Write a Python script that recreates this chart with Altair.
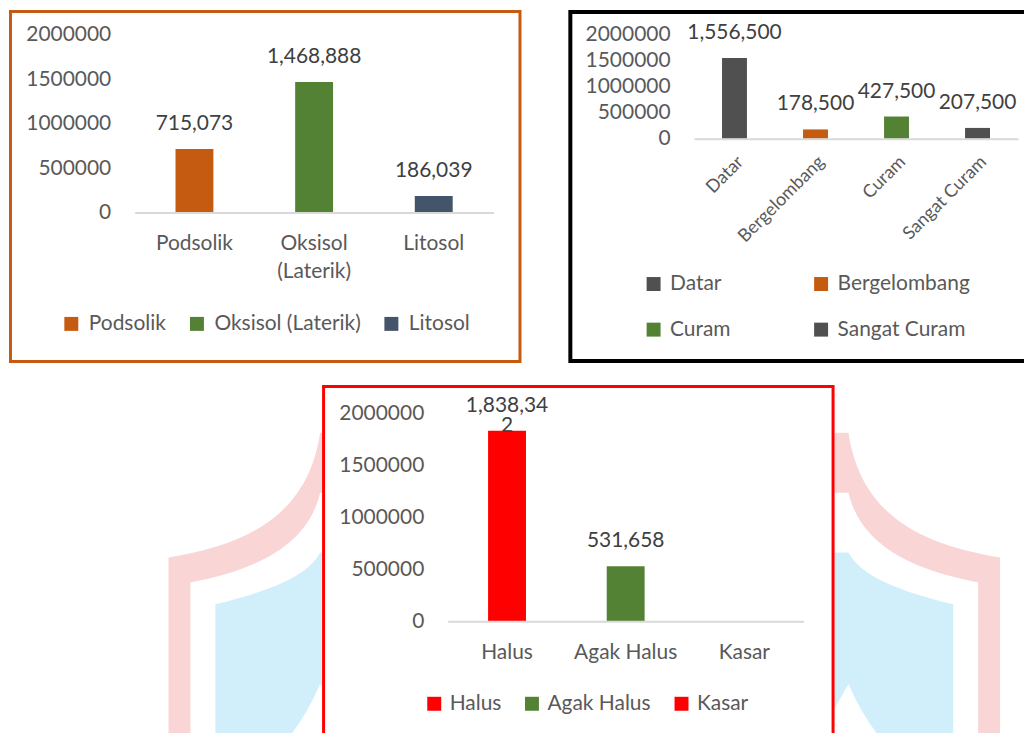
import base64
import altair as alt
import pandas as pd

FONT = "Lato"
AXIS_GREY = "#595959"
LABEL_GREY = "#404040"

# ---------------- data ----------------
soil_types = ["Podsolik", "Oksisol (Laterik)", "Litosol"]
soil_area = [715073, 1468888, 186039]
soil_colors = ["#C55A11", "#548235", "#44546A"]

slope_classes = ["Datar", "Bergelombang", "Curam", "Sangat Curam"]
slope_area = [1556500, 178500, 427500, 207500]
slope_colors = ["#505050", "#C55A11", "#548235", "#505050"]

texture_classes = ["Halus", "Agak Halus", "Kasar"]
texture_area = [1838342, 531658, None]
texture_colors = ["#FF0000", "#548235", "#FF0000"]

y_ticks = [0, 500000, 1000000, 1500000, 2000000]

ONE = pd.DataFrame({"_": [0]})

# faint background watermark (decoration only) behind the lower chart
WATERMARK_SVG = """<svg xmlns='http://www.w3.org/2000/svg' width='1018' height='349' viewBox='0 0 1018 349'>
<g>
<path d='M160,173 C240,160 300,130 312,48 L340,48 L340,349 L160,349 Z' fill='#F9D6D5'/>
<path d='M182,198 C250,185 300,160 312,108 L340,108 L340,349 L182,349 Z' fill='#FFFFFF'/>
<path d='M207,220 C260,207 300,192 312,168 L340,168 L340,349 L207,349 Z' fill='#D0EFFB'/>
<path d='M312,300 Q300,328 284,349 L340,349 Z' fill='#FFFFFF'/>
</g>
<g transform='translate(1154,0) scale(-1,1)'>
<path d='M160,173 C240,160 300,130 312,48 L340,48 L340,349 L160,349 Z' fill='#F9D6D5'/>
<path d='M182,198 C250,185 300,160 312,108 L340,108 L340,349 L182,349 Z' fill='#FFFFFF'/>
<path d='M207,220 C260,207 300,192 312,168 L340,168 L340,349 L207,349 Z' fill='#D0EFFB'/>
<path d='M312,300 Q300,328 284,349 L340,349 Z' fill='#FFFFFF'/>
</g>
<rect x='314' y='0' width='514' height='349' fill='#FFFFFF'/>
</svg>"""
WATERMARK_URI = "data:image/svg+xml;base64," + base64.b64encode(WATERMARK_SVG.encode()).decode()


def border(color, width, x0, x1, y0, y1, sides):
    h = width / 2
    layers = []
    base = alt.Chart(ONE)
    if "top" in sides:
        layers.append(base.mark_rule(color=color, strokeWidth=width).encode(
            x=alt.value(x0 + h), x2=alt.value(x1 - h), y=alt.value(y0 + h)))
    if "bottom" in sides:
        layers.append(base.mark_rule(color=color, strokeWidth=width).encode(
            x=alt.value(x0 + h), x2=alt.value(x1 - h), y=alt.value(y1 - h)))
    if "left" in sides:
        layers.append(base.mark_rule(color=color, strokeWidth=width, strokeCap="square").encode(
            x=alt.value(x0 + h), y=alt.value(y0 + h), y2=alt.value(y1 - h)))
    if "right" in sides:
        layers.append(base.mark_rule(color=color, strokeWidth=width, strokeCap="square").encode(
            x=alt.value(x1 - h), y=alt.value(y0 + h), y2=alt.value(y1 - h)))
    return layers


def panel(cats, vals, colors, W, H, y_rng, x_rng, ylab_x, bar_size,
          x_axis, legend, frame, wrap_at=None, tick_font=21, label_font=21):
    df = pd.DataFrame({"cat": cats, "val": vals})
    base = alt.Chart(df)
    x_enc = alt.X("cat:N", sort=cats,
                  scale=alt.Scale(domain=cats, range=x_rng, paddingInner=0, paddingOuter=0),
                  axis=x_axis)
    y_enc = alt.Y("val:Q",
                  scale=alt.Scale(domain=[0, 2000000], range=y_rng, nice=False),
                  axis=alt.Axis(values=y_ticks, format="d", offset=-ylab_x, domain=False,
                                ticks=False, tickSize=0, labelPadding=0, grid=False, zindex=1,
                                labelFont=FONT, labelFontSize=tick_font, labelColor=AXIS_GREY,
                                title=None))
    bars = base.mark_bar(size=bar_size).encode(
        x=x_enc, y=y_enc,
        color=alt.Color("cat:N", scale=alt.Scale(domain=cats, range=colors), legend=legend),
    )
    if wrap_at:
        lab_expr = (f"length(datum.s) > {wrap_at} ? substring(datum.s, 0, {wrap_at}) + '\\n' + "
                    f"substring(datum.s, {wrap_at}) : datum.s")
    else:
        lab_expr = "datum.s"
    texts = base.transform_filter("isValid(datum.val)").transform_calculate(
        s="format(datum.val, ',')"
    ).transform_calculate(lab=lab_expr).mark_text(
        dy=-19, baseline="alphabetic", font=FONT, fontSize=label_font, color=LABEL_GREY,
        lineBreak="\n", lineHeight=20,
    ).encode(x=x_enc, y=y_enc, text="lab:N")
    layers = frame + [bars, texts]
    return alt.layer(*layers).properties(width=W, height=H)


# ---------- panel 1 : soil type ----------
p1 = panel(
    soil_types, soil_area, soil_colors, 514, 354, [203, 25], [126, 486], 102, 38,
    alt.Axis(orient="bottom", offset=-151, domainColor="#D9D9D9", domainWidth=2, zindex=1,
             ticks=False, tickSize=0, labelPadding=20, labelAngle=0,
             labelFont=FONT, labelFontSize=21, labelColor=AXIS_GREY, labelLineHeight=28,
             labelExpr="indexof(datum.value, ' (') > 0 ? split(datum.value, ' ') : datum.value",
             title=None),
    alt.Legend(orient="none", legendX=52, legendY=304, direction="horizontal", title=None,
               symbolType="square", symbolSize=196, symbolStrokeWidth=0,
               labelFont=FONT, labelFontSize=21, labelColor=AXIS_GREY, labelOffset=7,
               labelLimit=400, columnPadding=20, padding=0),
    border("#C55A11", 3, 0, 514, 0, 354, ["top", "bottom", "left", "right"]),
)

# ---------- panel 2 : slope ----------
p2 = panel(
    slope_classes, slope_area, slope_colors, 459, 354, [129, 25], [126, 451], 102, 25,
    alt.Axis(orient="bottom", offset=-225, domainColor="#D9D9D9", domainWidth=2, zindex=1,
             ticks=False, tickSize=0, labelPadding=14, labelAngle=-45,
             labelAlign="right", labelBaseline="top",
             labelFont=FONT, labelFontSize=18, labelColor=AXIS_GREY, title=None),
    alt.Legend(orient="none", legendX=75, legendY=264, direction="horizontal", columns=2,
               title=None, symbolType="square", symbolSize=196, symbolStrokeWidth=0,
               labelFont=FONT, labelFontSize=21, labelColor=AXIS_GREY, labelOffset=6,
               labelLimit=400, columnPadding=80, rowPadding=24, padding=0),
    border("#000000", 4, 0, 459, 0, 354, ["top", "bottom", "left"]),
)

# ---------- panel 3 : texture ----------
watermark = alt.Chart(ONE).mark_image(
    url=WATERMARK_URI, width=1018, height=349, align="left", baseline="top", aspect=False
).encode(x=alt.value(0), y=alt.value(0))

p3 = panel(
    texture_classes, texture_area, texture_colors, 1018, 349, [237, 29], [440, 797], 416, 38,
    alt.Axis(orient="bottom", offset=-112, domainColor="#D9D9D9", domainWidth=2, zindex=1,
             ticks=False, tickSize=0, labelPadding=20, labelAngle=0,
             labelFont=FONT, labelFontSize=21, labelColor=AXIS_GREY, title=None),
    alt.Legend(orient="none", legendX=416, legendY=309, direction="horizontal", title=None,
               symbolType="square", symbolSize=196, symbolStrokeWidth=0,
               labelFont=FONT, labelFontSize=21, labelColor=AXIS_GREY, labelOffset=5,
               labelLimit=400, columnPadding=20, padding=0),
    [watermark] + border("#FF0000", 3, 314, 828, 0, 349, ["top", "left", "right"]),
    wrap_at=8,
)

top = alt.hconcat(p1, p2, spacing=45).resolve_scale(color="independent", x="independent", y="independent")
chart = alt.vconcat(top, p3, spacing=20).resolve_scale(
    color="independent", x="independent", y="independent"
).properties(padding=0, background="white").configure_view(strokeWidth=0)

chart.save("out.html", embed_options={"renderer": "svg", "actions": False})
